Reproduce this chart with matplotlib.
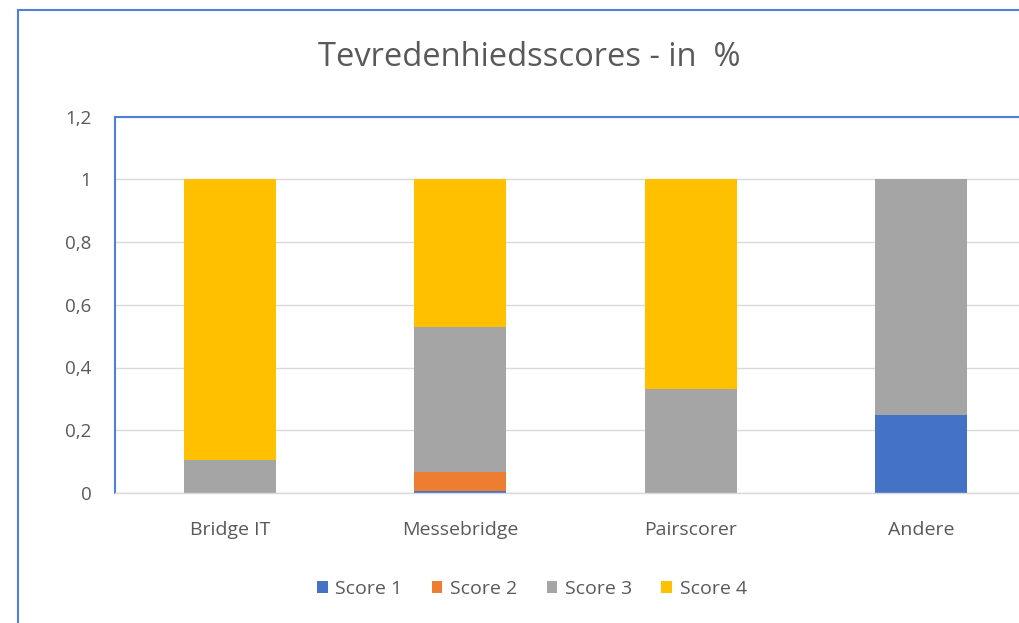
import matplotlib
matplotlib.use("Agg")
import matplotlib.pyplot as plt
from matplotlib.patches import Rectangle
import numpy as np

## Data
categories = ["Bridge IT", "Messebridge", "Pairscorer", "Andere"]
score1 = [0.0, 0.006, 0.0, 0.25]
score2 = [0.0, 0.062, 0.0, 0.0]
score3 = [0.105, 0.46, 0.333, 0.75]
score4 = [0.895, 0.472, 0.667, 0.0]
series_names = ["Score 1", "Score 2", "Score 3", "Score 4"]
series_colors = ["#4472c4", "#ed7d31", "#a5a5a5", "#ffc000"]
yticks = [0, 0.2, 0.4, 0.6, 0.8, 1.0, 1.2]
ytick_labels = ["0", "0,2", "0,4", "0,6", "0,8", "1", "1,2"]

plt.rcParams["font.family"] = ["Open Sans", "DejaVu Sans"]
text_color = "#595959"
W, H = 1020, 623

fig = plt.figure(figsize=(W / 100, H / 100), dpi=100)

## outer chart border (chart is cropped on the right and bottom)
fig.patches.append(Rectangle((18 / W, -0.05), 1.2, 1 - 10 / H + 0.05, transform=fig.transFigure,
                             fill=False, edgecolor="#4f7fd8", linewidth=1.5))

## plot area: extends past the right edge of the picture like the reference
ax = fig.add_axes([115 / W, 1 - 493 / H, 921 / W, (493 - 116.5) / H])

x = np.arange(len(categories))
bottom = np.zeros(len(categories))
for name, vals, col in zip(series_names, [score1, score2, score3, score4], series_colors):
    ax.bar(x, vals, width=0.4, bottom=bottom, color=col, label=name, zorder=3)
    bottom += np.array(vals)

ax.set_xlim(-0.5, len(categories) - 0.5)
ax.set_ylim(0, 1.2)
ax.set_yticks(yticks)
ax.set_yticklabels(ytick_labels)
ax.set_xticks(x)
ax.set_xticklabels(categories)
ax.tick_params(axis="x", length=0, labelsize=14, labelcolor=text_color, pad=20)
ax.tick_params(axis="y", length=0, labelsize=13.5, labelcolor=text_color, pad=17)
ax.yaxis.grid(True, color="#d9d9d9", linewidth=1, zorder=0)
ax.set_axisbelow(True)

for side in ["left", "top", "right"]:
    ax.spines[side].set_color("#4f7fd8")
    ax.spines[side].set_linewidth(1.5)
ax.spines["bottom"].set_color("#d9d9d9")
ax.spines["bottom"].set_linewidth(1)
ax.spines["bottom"].set_zorder(4)

fig.text(529 / W, 1 - 58 / H, "Tevredenhiedsscores - in  %", ha="center", va="center",
         fontsize=23.5, color=text_color)

fig.legend(loc="center", bbox_to_anchor=(532 / W, 1 - 589 / H), ncol=4, frameon=False,
           fontsize=14, labelcolor=text_color, handlelength=0.55, handleheight=0.55,
           handletextpad=0.4, columnspacing=1.5)

fig.savefig("out.png", dpi=100)
